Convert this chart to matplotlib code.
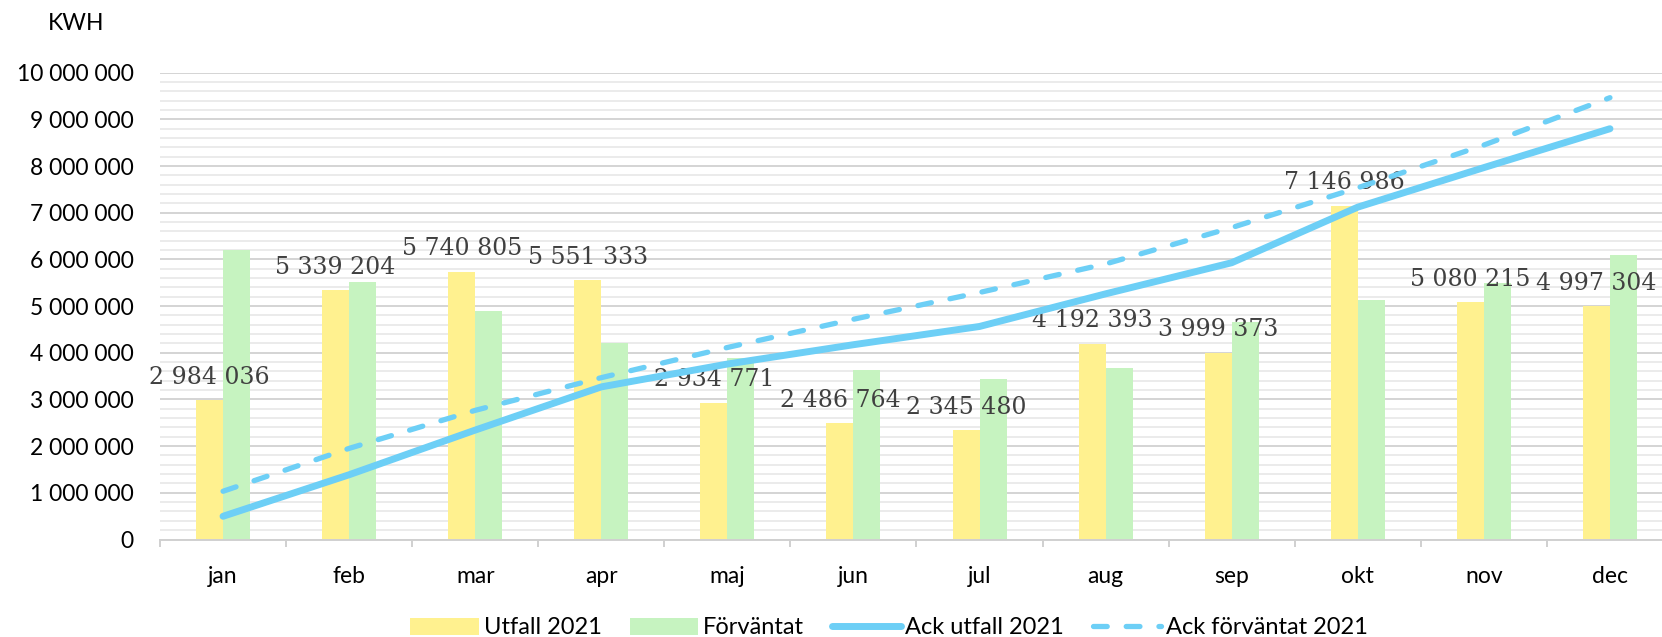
import matplotlib
matplotlib.use("Agg")
import matplotlib.pyplot as plt
import numpy as np
from matplotlib.ticker import MultipleLocator, FuncFormatter

months = ["jan", "feb", "mar", "apr", "maj", "jun", "jul", "aug", "sep", "okt", "nov", "dec"]
utfall = [2984036, 5339204, 5740805, 5551333, 2934771, 2486764, 2345480,
          4192393, 3999373, 7146986, 5080215, 4997304]
forvantat = [6200000, 5510000, 4890000, 4200000, 3880000, 3630000, 3440000,
             3670000, 4670000, 5120000, 5490000, 6090000]
# cumulative series (plotted on hidden secondary axis 0..60 000 000)
ack_utfall = [2984036, 8323240, 14064045, 19615378, 22550149, 25036913, 27382393,
              31574786, 35574159, 42721145, 47801360, 52798664]
ack_forvantat = [6200000, 11710000, 16600000, 20800000, 24680000, 28310000, 31750000,
                 35420000, 40090000, 45210000, 50700000, 56790000]

YELLOW = "#FFF18F"
GREEN = "#C6F3C0"
BLUE = "#6DCFF6"
SANS = ["Lato", "DejaVu Sans"]
FS = 16.5

fig = plt.figure(figsize=(16.62, 6.37), dpi=100)
W, H = 1662, 637
ax = fig.add_axes([160 / W, (H - 539.5) / H, 1513 / W, (539.5 - 72.7) / H])

x = np.arange(len(months))
bw = 0.214
b1 = ax.bar(x - bw / 2, utfall, bw, color=YELLOW, label="Utfall 2021", zorder=2)
b2 = ax.bar(x + bw / 2, forvantat, bw, color=GREEN, label="Förväntat", zorder=2)

ax.set_xlim(-0.5, 11.5)
ax.set_ylim(0, 10000000)
ax.yaxis.set_major_locator(MultipleLocator(1000000))
ax.yaxis.set_minor_locator(MultipleLocator(200000))
ax.yaxis.set_major_formatter(FuncFormatter(lambda v, p: f"{int(v):,}".replace(",", " ")))
ax.grid(axis="y", which="major", color="#D4D4D4", lw=1.4, zorder=0)
ax.grid(axis="y", which="minor", color="#EBEBEB", lw=1.4, zorder=0)
ax.set_axisbelow(True)

for s in ["left", "right", "top"]:
    ax.spines[s].set_visible(False)
ax.spines["bottom"].set_color("#D0D0D0")
ax.spines["bottom"].set_linewidth(1.4)

ax.set_xticks(x)
ax.set_xticklabels(months, fontsize=FS, family=SANS)
ax.tick_params(axis="x", which="major", length=0, pad=19)
ax.set_xticks(np.arange(-0.5, 12, 1), minor=True)
ax.tick_params(axis="x", which="minor", length=5, width=1.4, color="#D0D0D0", direction="out")
ax.tick_params(axis="y", which="both", length=0, pad=19)
for lab in ax.get_yticklabels():
    lab.set_fontsize(FS)
    lab.set_family(SANS)

for xi, v in zip(x, utfall):
    ax.annotate(f"{v:,}".replace(",", " "), (xi - bw / 2, v), xytext=(0, 16.5),
                textcoords="offset points", ha="center", va="center",
                fontsize=17, family="DejaVu Serif", color="#404040", zorder=5)

ax2 = ax.twinx()
ax2.set_ylim(0, 60000000)
ax2.set_axis_off()
l1, = ax2.plot(x, ack_utfall, color=BLUE, lw=5, solid_capstyle="round",
               solid_joinstyle="round", label="Ack utfall 2021")
l2, = ax2.plot(x, ack_forvantat, color=BLUE, lw=3.8, dashes=(2.6, 3.6),
               dash_capstyle="round", label="Ack förväntat 2021")

fig.text(48 / W, 1 - 23 / H, "KWH", fontsize=FS, family=SANS, va="center", ha="left")

leg = fig.legend([b1, b2, l1, l2], ["Utfall 2021", "Förväntat", "Ack utfall 2021", "Ack förväntat 2021"],
                 loc="center", bbox_to_anchor=(889 / W, 1 - 628 / H), ncol=4, frameon=False,
                 prop={"family": SANS, "size": 17}, handlelength=2.9, handleheight=0.7,
                 handletextpad=0.2, columnspacing=1.2)

fig.savefig("out.png", dpi=100)
